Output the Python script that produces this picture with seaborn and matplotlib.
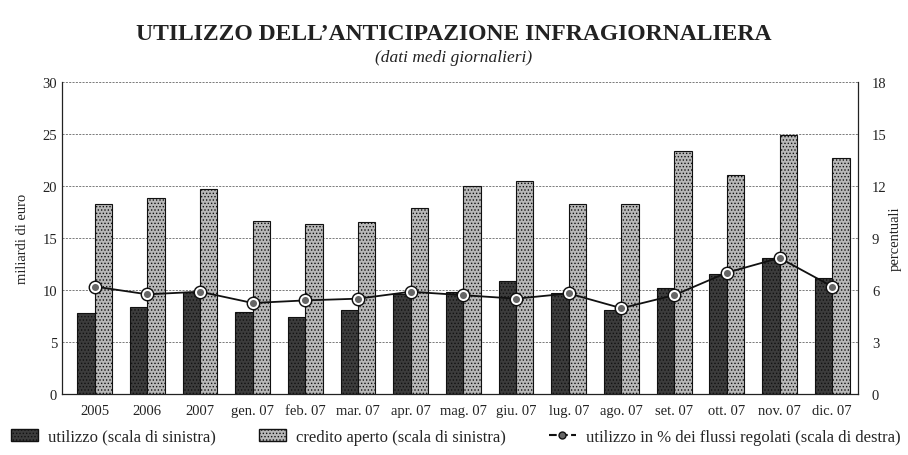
import numpy as np
import pandas as pd
import matplotlib
matplotlib.use('Agg')
import matplotlib.pyplot as plt
import seaborn as sns
from matplotlib.lines import Line2D
from matplotlib.patches import Patch

# dati
periodi = ['2005', '2006', '2007', 'gen. 07', 'feb. 07', 'mar. 07', 'apr. 07', 'mag. 07',
           'giu. 07', 'lug. 07', 'ago. 07', 'set. 07', 'ott. 07', 'nov. 07', 'dic. 07']
utilizzo = [7.8, 8.4, 9.8, 7.9, 7.4, 8.1, 9.6, 9.8, 10.9, 9.7, 8.1, 10.2, 11.5, 13.1, 11.2]
credito = [18.3, 18.8, 19.7, 16.6, 16.3, 16.5, 17.9, 20.0, 20.5, 18.3, 18.3, 23.4, 21.1, 24.9, 22.7]
perc_flussi = [6.2, 5.75, 5.9, 5.25, 5.4, 5.5, 5.9, 5.7, 5.5, 5.8, 4.95, 5.7, 7.0, 7.85, 6.2]

lab_util = 'utilizzo (scala di sinistra)'
lab_cred = 'credito aperto (scala di sinistra)'
lab_perc = 'utilizzo in % dei flussi regolati (scala di destra)'

df = pd.DataFrame({'periodo': periodi * 2,
                   'valore': utilizzo + credito,
                   'serie': [lab_util] * len(periodi) + [lab_cred] * len(periodi)})

sns.set_style('white')
plt.rcParams['font.family'] = ['Liberation Serif', 'DejaVu Serif']
plt.rcParams['hatch.color'] = '#888888'
plt.rcParams['hatch.linewidth'] = 0.6

fig = plt.figure(figsize=(9.08, 4.56), dpi=100)
ax = fig.add_axes([62 / 908, 1 - 395 / 456, (858 - 62) / 908, (395 - 83) / 456])

sns.barplot(data=df, x='periodo', y='valore', hue='serie', order=periodi,
            palette=['#3c3c3c', '#b8b8b8'], width=0.66, gap=0, ax=ax,
            edgecolor='#111111', linewidth=0.8, legend=False)
for bar in ax.patches:
    bar.set_hatch('.....')

ax.set_xlim(-0.62, 14.49)
ax.set_ylim(0, 30)
ax.set_yticks(range(0, 31, 5))
ax.set_xlabel('')
ax.set_ylabel('miliardi di euro', fontsize=10.5, color='#222222')
ax.yaxis.set_label_coords(-0.042, 0.5)
ax.yaxis.grid(True, linestyle=(0, (2.5, 1.5)), color='#666666', linewidth=0.6)
ax.set_axisbelow(True)
ax.tick_params(axis='both', labelsize=10.5, length=0, labelcolor='#222222')
ax.tick_params(axis='x', pad=7)
ax.set_xticks(np.arange(0.5, 14, 1), minor=True)
ax.tick_params(axis='x', which='minor', direction='in', length=4, width=0.8, color='#222222')
for s in ['left', 'right', 'bottom']:
    ax.spines[s].set_visible(True)
    ax.spines[s].set_color('#222222')
    ax.spines[s].set_linewidth(0.9)
ax.spines['top'].set_visible(False)

ax2 = ax.twinx()
x = np.arange(len(periodi))
ax2.plot(x, perc_flussi, color='#111111', linewidth=1.3, zorder=3)
ax2.plot(x, perc_flussi, linestyle='none', marker='o', markersize=9,
         markerfacecolor='#111111', markeredgecolor='#111111', zorder=4)
ax2.plot(x, perc_flussi, linestyle='none', marker='o', markersize=6.5,
         markerfacecolor='#666666', markeredgecolor='white', markeredgewidth=1.4, zorder=5)
ax2.set_ylim(0, 18)
ax2.set_yticks(range(0, 19, 3))
ax2.set_ylabel('percentuali', fontsize=10.5, rotation=90, color='#222222')
ax2.yaxis.set_label_coords(1.038, 0.5)
ax2.tick_params(axis='y', labelsize=10.5, length=0, pad=10, labelcolor='#222222')
for s in ax2.spines.values():
    s.set_visible(False)
ax2.grid(False)

fig.text(0.5, 0.925, 'UTILIZZO DELL\u2019ANTICIPAZIONE INFRAGIORNALIERA',
         ha='center', va='center', fontsize=17, fontweight='bold', color='#222222')
fig.text(0.5, 0.872, '(dati medi giornalieri)', ha='center', va='center',
         fontsize=12.5, style='italic', color='#222222')

handles = [Patch(facecolor='#3c3c3c', edgecolor='#111111', hatch='.....', label=lab_util),
           Patch(facecolor='#b8b8b8', edgecolor='#111111', hatch='.....', label=lab_cred),
           Line2D([0], [0], color='#111111', linestyle='--', marker='o', markersize=5,
                  markerfacecolor='#666666', markeredgecolor='#111111', label=lab_perc)]
fig.legend(handles=handles, loc='center', bbox_to_anchor=(0.502, 0.04), ncol=3,
           frameon=False, fontsize=12, handlelength=1.6, columnspacing=2.6,
           handletextpad=0.6, borderpad=0.1)

fig.savefig('out.png', dpi=100)
